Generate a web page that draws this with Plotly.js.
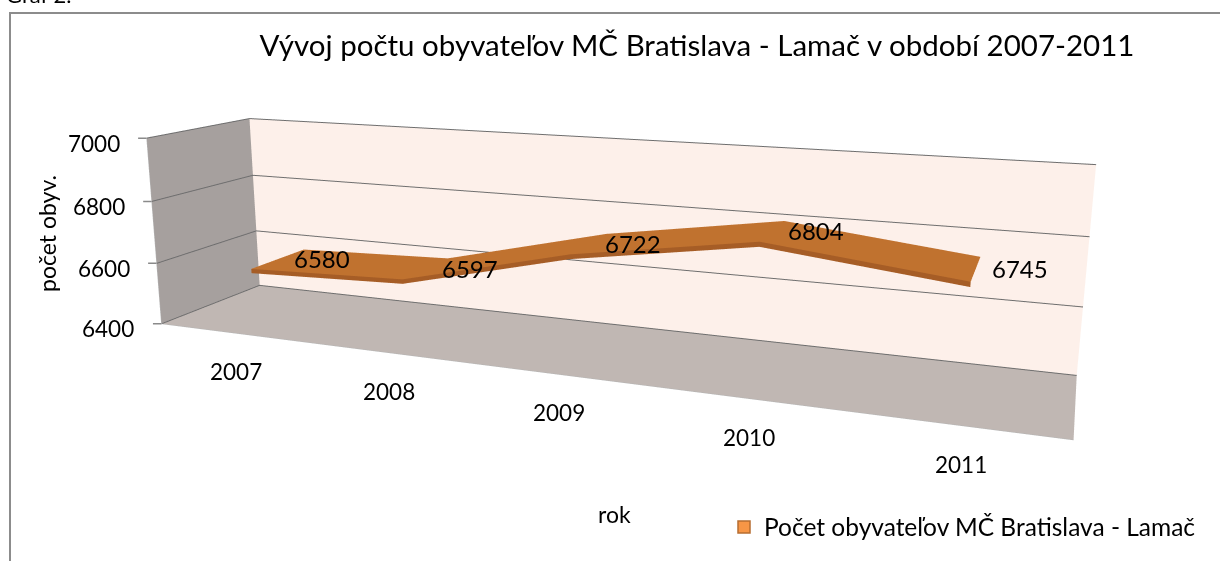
<!DOCTYPE html>
<html><head><meta charset="utf-8">
<script src="https://cdn.plot.ly/plotly-3.0.1.min.js"></script>
<style>
html,body{margin:0;padding:0;background:#fff;overflow:hidden;}
#wrap{position:relative;width:1220px;height:561px;overflow:hidden;background:#fff;}
#chart{position:absolute;left:0;top:-272px;width:1220px;height:1046px;}
</style></head><body>
<div id="wrap"><div id="chart"></div></div>
<script>
// ---- data ----
const years = ['2007', '2008', '2009', '2010', '2011'];
const population = [6580, 6597, 6722, 6804, 6745];
const valueTicks = [6400, 6600, 6800, 7000];
const seriesName = 'Počet obyvateľov MČ Bratislava - Lamač';
const chartTitle = 'Vývoj počtu obyvateľov MČ Bratislava - Lamač v období 2007-2011';
const xTitle = 'rok';
const yTitle = 'počet obyv.';
const caption = 'Graf 2.';

// ---- figure geometry (figure is taller than the window, shifted up) ----
const FW = 1220, FH = 1046, OY = 272;
const px = x => x / FW;
const py = y => 1 - (y + OY) / FH;
const FONT = 'Lato, "Open Sans", sans-serif';

const idx = years.map((_, i) => i);
const xRange = [-0.5, years.length - 0.5];
const depthRange = [0, 1];
const valueRange = [valueTicks[0], valueTicks[valueTicks.length - 1]];
const ribbonDepth = [0.22, 0.78];
const thickness = 14;
const flat = {ambient: 1, diffuse: 0, specular: 0, roughness: 1, fresnel: 0};
const noContours = {x: {highlight: false}, y: {highlight: false}, z: {highlight: false}};

const ribbonTop = {
  type: 'surface',
  x: idx, y: ribbonDepth,
  z: ribbonDepth.map(() => population),
  surfacecolor: ribbonDepth.map(() => population.map(() => 0)),
  colorscale: [[0, '#c0722f'], [1, '#c0722f']], cmin: 0, cmax: 1,
  showscale: false, hoverinfo: 'skip', lighting: flat, contours: noContours,
  showlegend: false
};
const ribbonFront = {
  type: 'surface',
  x: idx, y: [ribbonDepth[0], ribbonDepth[0]],
  z: [population.map(v => v - thickness), population],
  surfacecolor: [population.map(() => 0), population.map(() => 0)],
  colorscale: [[0, '#a65d26'], [1, '#a65d26']], cmin: 0, cmax: 1,
  showscale: false, hoverinfo: 'skip', lighting: flat, contours: noContours,
  showlegend: false
};
const legendTrace = {
  type: 'scatter', x: [null], y: [null], mode: 'markers', name: seriesName,
  marker: {symbol: 'square', size: 12, color: '#f79646', line: {color: '#b66d31', width: 1.5}},
  hoverinfo: 'skip', showlegend: true
};

const labelFont = {family: FONT, size: 22.5, color: '#000'};

// data labels, category labels and value-axis labels placed through the scene's own scales
const dataLabels = population.map((v, i) => ({
  x: i, y: 0.5, z: v, text: String(v), showarrow: false, xanchor: 'left', xshift: 14,
  font: {family: FONT, size: 24, color: '#000'}
}));
const categoryLabels = years.map((yr, i) => ({
  x: i, y: depthRange[0], z: valueRange[0], text: yr, showarrow: false,
  xanchor: 'center', yanchor: 'middle', xshift: 4, yshift: -39, font: labelFont
}));
const valueLabels = valueTicks.map(v => ({
  x: xRange[0], y: depthRange[0], z: v, text: String(v), showarrow: false,
  xanchor: 'right', yanchor: 'middle', xshift: -25, yshift: -5, font: labelFont
}));
const valueTickMarks = valueTicks.map(v => ({
  x: xRange[0], y: depthRange[0], z: v, text: '', showarrow: true, arrowhead: 0,
  arrowwidth: 1.5, arrowcolor: '#8a8a8a', ax: -10, ay: 0, standoff: 0, startstandoff: 0
}));

const layout = {
  width: FW, height: FH,
  margin: {l: 0, r: 0, t: 0, b: 0},
  paper_bgcolor: '#ffffff', plot_bgcolor: 'rgba(0,0,0,0)',
  font: {family: FONT, color: '#000'},
  title: {text: chartTitle, font: {family: FONT, size: 29.5, color: '#000'},
          x: px(697), xanchor: 'center', xref: 'paper', y: py(46), yref: 'paper', yanchor: 'middle'},
  xaxis: {visible: false, domain: [0.98, 1]},
  yaxis: {visible: false, domain: [0.98, 1]},
  showlegend: true,
  legend: {x: px(724), y: py(527), xanchor: 'left', yanchor: 'middle',
           font: {family: FONT, size: 24.5, color: '#000'}, bgcolor: 'rgba(0,0,0,0)', borderwidth: 0},
  scene: {
    domain: {x: [0, 2 * 589 / FW], y: [0, 1]},
    aspectmode: 'manual', aspectratio: {x: 4.575, y: 0.874, z: 1},
    camera: {eye: {x: 2.215, y: -5.649, z: 1.412}, center: {x: 0, y: 0, z: 0}, up: {x: 0, y: 0, z: 1},
             projection: {type: 'perspective'}},
    bgcolor: 'rgba(0,0,0,0)',
    xaxis: {range: xRange, tickvals: idx, ticktext: years, showticklabels: false, showgrid: false,
            zeroline: false, showbackground: true, backgroundcolor: '#a6a09e', showline: true,
            linecolor: '#b4b4b4', ticks: '', title: {text: ''}, showspikes: false},
    yaxis: {range: depthRange, showticklabels: false, showgrid: false, zeroline: false,
            showbackground: true, backgroundcolor: '#fdf0ea', showline: false, ticks: '',
            title: {text: ''}, showspikes: false},
    zaxis: {range: valueRange, tickvals: valueTicks, showticklabels: false, showgrid: true,
            gridcolor: '#6e6e6e', gridwidth: 2, zeroline: false, showbackground: true,
            backgroundcolor: '#c0b7b3', showline: true, linecolor: '#b4b4b4', ticks: '',
            title: {text: ''}, showspikes: false},
    annotations: dataLabels.concat(categoryLabels, valueLabels, valueTickMarks)
  },
  annotations: [
    {text: caption, x: px(4), y: py(-5), xref: 'paper', yref: 'paper', xanchor: 'left', yanchor: 'middle',
     showarrow: false, font: {family: FONT, size: 22, color: '#000'}},
    {text: xTitle, x: px(615), y: py(514), xref: 'paper', yref: 'paper', xanchor: 'center', yanchor: 'middle',
     showarrow: false, font: {family: FONT, size: 23, color: '#000'}},
    {text: yTitle, x: px(47), y: py(234), xref: 'paper', yref: 'paper', xanchor: 'center', yanchor: 'middle',
     textangle: -90, showarrow: false, font: {family: FONT, size: 23, color: '#000'}}
  ],
  shapes: [
    {type: 'rect', xref: 'paper', yref: 'paper', x0: px(10), x1: px(1300), y0: py(13), y1: py(700),
     line: {color: '#8c8c8c', width: 2}, fillcolor: 'rgba(0,0,0,0)', layer: 'below'}
  ]
};

Plotly.newPlot('chart', [ribbonTop, ribbonFront, legendTrace], layout, {displayModeBar: false, responsive: false});
</script>
</body></html>
